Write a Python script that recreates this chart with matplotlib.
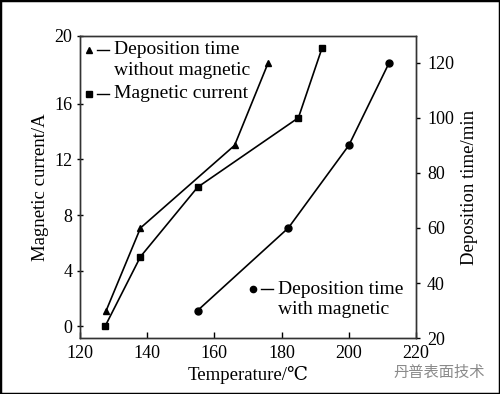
import matplotlib
matplotlib.use("Agg")
import matplotlib.pyplot as plt
from matplotlib.patches import Rectangle

plt.rcParams['font.family'] = ['Liberation Serif', 'DejaVu Serif']
plt.rcParams['mathtext.fontset'] = 'stix'

# magnetic current (left axis)
temp_current = [127.5, 138, 155, 185, 192]
current = [0, 5, 10, 15, 20]

# deposition time without magnetic (right axis)
temp_without = [127.8, 138, 166, 176]
time_without = [30, 60, 90, 120]

# deposition time with magnetic (right axis)
temp_with = [155, 182, 200, 212]
time_with = [30, 60, 90, 120]

x_ticks = [120, 140, 160, 180, 200, 220]
left_ticks = [0, 4, 8, 12, 16]
right_ticks = [20, 40, 60, 80, 100, 120]

fig = plt.figure(figsize=(5, 3.94), dpi=100)
ax = fig.add_axes([0.16, 0.142, 0.672, 0.767])
ax2 = ax.twinx()

lw = 1.2
ax.plot(temp_current, current, color='black', lw=lw, marker='s', ms=5)
ax2.plot(temp_without, time_without, color='black', lw=lw, marker='^', ms=5)
ax2.plot(temp_with, time_with, color='black', lw=lw, marker='o', ms=5)

ax.set_xlim(120, 220)
ax.set_ylim(-0.86, 20.9)
ax2.set_ylim(20, 129.8)

ax.set_xticks(x_ticks)
# the original figure puts its "20" label at the top of the frame
ax.set_yticks(left_ticks + [20.9])
ax.set_yticklabels([str(v) for v in left_ticks] + ['20'])
ax2.set_yticks(right_ticks)

ax.tick_params(axis='x', direction='in', length=4, width=1, labelsize=13, pad=5)
ax.tick_params(axis='y', direction='inout', length=5, width=1, labelsize=13, pad=3)
ax2.tick_params(axis='y', direction='out', length=3, width=1, labelsize=13, pad=5)

for a in (ax, ax2):
    for s in a.spines.values():
        s.set_linewidth(1.0)
        s.set_color('#333333')

ax.set_xlabel('Temperature/℃', fontsize=13.5, labelpad=3)
ax.set_ylabel('Magnetic current/A', fontsize=13.5, labelpad=4)
ax2.set_ylabel('Deposition time/min', fontsize=13.5, labelpad=5)

# hand drawn legends, as in the original
def legend_entry(x, y, marker, lines):
    ax.plot([x], [y], transform=ax.transAxes, marker=marker, ms=4.5,
            color='black', clip_on=False)
    ax.plot([x + 0.025, x + 0.06], [y, y], transform=ax.transAxes,
            color='black', lw=1.0, clip_on=False)
    ax.text(x + 0.075, y, lines[0], transform=ax.transAxes, fontsize=14,
            va='center', ha='left')
    if len(lines) > 1:
        ax.text(x + 0.075, y - 0.068, lines[1], transform=ax.transAxes,
                fontsize=14, va='center', ha='left')

legend_entry(0.027, 0.954, '^', ['Deposition time', 'without magnetic'])
legend_entry(0.027, 0.808, 's', ['Magnetic current'])
legend_entry(0.515, 0.162, 'o', ['Deposition time', 'with magnetic'])

fig.text(0.97, 0.055, '丹普表面技术', fontsize=11, color='#8a8a8a',
         ha='right', va='center', family=['Noto Sans CJK SC', 'DejaVu Sans'])

fig.patches.append(Rectangle((0, 0), 1, 1, transform=fig.transFigure,
                             fill=False, edgecolor='black', lw=2.5))

fig.savefig('out.png', dpi=100)
